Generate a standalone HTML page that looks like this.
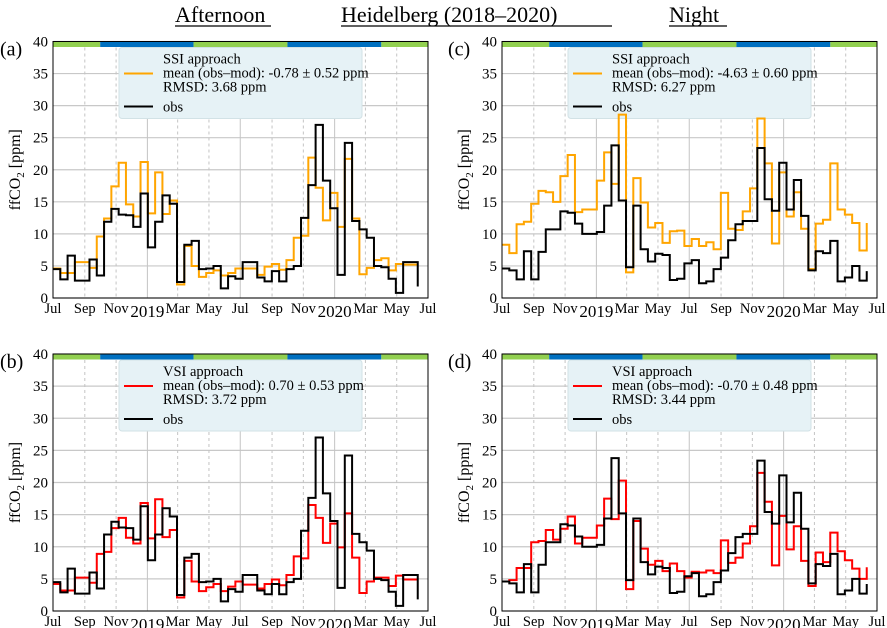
<!DOCTYPE html>
<html><head><meta charset="utf-8"><style>
body{margin:0;background:#fff;}
svg{display:block;}
svg text{font-family:"Liberation Serif",serif;}
</style></head><body>
<svg id="fig" width="887" height="628" viewBox="0 0 887 628" xmlns="http://www.w3.org/2000/svg" font-family="Liberation Serif, serif">
<g font-size="22">
<text x="175" y="22">Afternoon</text>
<line x1="175" y1="26" x2="271" y2="26" stroke="#000" stroke-width="1.2"/>
<text x="341" y="22">Heidelberg (2018–2020)</text>
<line x1="341" y1="26" x2="612" y2="26" stroke="#000" stroke-width="1.2"/>
<text x="669" y="22">Night</text>
<line x1="669" y1="26" x2="727" y2="26" stroke="#000" stroke-width="1.2"/>
</g>
</svg>
<script>
// ---- data (biweekly values, ppm) ----
const obsAfternoon=[4.5,2.9,6.6,2.7,2.7,6.0,3.5,11.9,13.9,13.0,12.9,11.1,16.3,7.9,11.9,16.0,14.7,2.5,8.3,8.9,4.5,4.6,5.0,1.5,3.4,3.0,5.6,5.6,3.2,2.6,4.2,2.6,4.5,5.0,12.5,17.6,27.0,18.3,14.0,3.6,24.2,12.0,10.7,9.4,5.0,4.8,3.0,0.8,5.6,5.6,1.8];
const ssiAfternoon=[4.6,3.9,3.9,5.6,5.6,4.7,9.6,12.4,17.4,21.1,14.6,12.7,21.2,13.2,19.6,13.1,15.2,2.1,8.1,5.0,3.3,3.9,4.3,3.5,3.9,4.6,4.6,4.6,3.6,4.9,5.3,4.4,5.9,9.4,9.7,21.9,17.2,12.1,16.4,11.1,21.7,12.4,3.7,4.7,5.9,6.2,4.3,5.3,5.2,5.2,5.2];
const vsiAfternoon=[4.2,3.2,3.2,5.2,5.2,4.4,8.9,9.2,12.9,14.5,11.4,10.5,16.8,11.3,17.4,11.5,12.6,2.1,7.8,4.6,3.1,3.7,4.2,3.1,3.8,4.6,4.1,4.1,3.5,4.2,4.9,4.0,5.6,8.5,8.2,16.5,14.5,10.6,13.6,9.9,15.2,8.3,2.8,4.6,5.2,5.2,3.9,5.5,4.9,4.9,4.9];
const obsNight=[4.6,4.3,2.9,7.3,2.9,7.2,10.7,10.7,13.5,13.3,11.6,10.0,10.0,10.3,14.4,23.8,15.2,4.8,14.4,7.6,5.7,6.9,6.7,2.8,3.0,5.4,5.9,2.3,2.6,4.5,6.3,9.0,11.5,12.0,12.0,23.4,15.4,13.6,21.1,13.8,18.4,12.8,4.3,7.3,7.0,8.9,2.6,3.2,5.0,2.7,4.2];
const ssiNight=[8.3,7.0,11.5,11.9,14.7,16.7,16.5,15.0,19.0,22.3,13.4,13.8,13.8,18.3,22.7,17.8,28.6,4.0,18.7,14.9,11.0,11.7,8.6,10.4,10.5,8.1,9.2,8.1,8.7,7.6,16.4,10.8,10.6,13.5,17.1,28.0,21.0,8.5,19.6,12.7,16.5,10.8,4.5,11.6,12.2,21.0,13.8,13.0,11.7,7.4,11.7];
const vsiNight=[4.6,4.8,6.7,6.7,10.7,10.9,12.6,11.1,12.8,14.7,10.5,11.4,11.4,13.3,17.5,14.3,20.3,3.4,14.0,9.7,7.2,7.8,6.2,7.4,6.2,5.2,6.1,6.0,6.3,5.9,11.0,7.5,8.3,10.5,13.2,21.5,17.0,7.1,14.8,9.6,13.2,7.8,3.9,9.1,7.6,12.2,9.3,7.9,6.6,5.0,6.8];
const yTicks=[0,5,10,15,20,25,30,35,40];
const xTickDays=[0,62,123,184,243,304,365,427,488,549,609,670,731];
const xTickLabels=["Jul","Sep","Nov","2019","Mar","May","Jul","Sep","Nov","2020","Mar","May","Jul"];
const seasonStarts=[0,92,274,457,640];
const seasonEnds=[92,274,457,640,731];
const seasonColors=["#92d050","#0070c0","#92d050","#0070c0","#92d050"];
const stepDays=14.22;
const totalDays=731;

const NS="http://www.w3.org/2000/svg";
const svg=document.getElementById('fig');
function mk(tag,attrs,parent){const e=document.createElementNS(NS,tag);for(const k in attrs)e.setAttribute(k,attrs[k]);if(tag==='text')e.setAttribute('font-family','Liberation Serif, serif');(parent||svg).appendChild(e);return e;}

const panels=[
 {id:'a',x0:53,x1:428,y0:41.5,y1:298,label:'(a)',lx:0,obs:obsAfternoon,mod:ssiAfternoon,col:'#ffa500',name:'SSI approach',mean:'mean (obs–mod): -0.78 ± 0.52 ppm',rmsd:'RMSD: 3.68 ppm'},
 {id:'c',x0:502,x1:877,y0:41.5,y1:298,label:'(c)',lx:448,obs:obsNight,mod:ssiNight,col:'#ffa500',name:'SSI approach',mean:'mean (obs–mod): -4.63 ± 0.60 ppm',rmsd:'RMSD: 6.27 ppm'},
 {id:'b',x0:53,x1:428,y0:354,y1:611,label:'(b)',lx:0,obs:obsAfternoon,mod:vsiAfternoon,col:'#ff0000',name:'VSI approach',mean:'mean (obs–mod): 0.70 ± 0.53 ppm',rmsd:'RMSD: 3.72 ppm'},
 {id:'d',x0:502,x1:877,y0:354,y1:611,label:'(d)',lx:448,obs:obsNight,mod:vsiNight,col:'#ff0000',name:'VSI approach',mean:'mean (obs–mod): -0.70 ± 0.48 ppm',rmsd:'RMSD: 3.44 ppm'}
];

function stepPath(vals,xs,ys){
  let d='';
  for(let i=0;i<vals.length;i++){
    const x=xs(i*stepDays),y=ys(vals[i]);
    if(i===0)d+='M'+x+' '+y;else d+=' L'+x+' '+y;
    if(i<vals.length-1)d+=' L'+xs((i+1)*stepDays)+' '+y;
  }
  return d;
}

panels.forEach(p=>{
  const g=mk('g',{});
  
  
  const xs=d=>p.x0+(p.x1-p.x0)*d/totalDays;
  const ys=v=>p.y1-(p.y1-p.y0)*v/40;
  yTicks.forEach(t=>{
    const l=mk('line',{x1:p.x0,x2:p.x1,y1:ys(t),y2:ys(t),stroke:'#c8c8c8','stroke-width':1.2},g);
    
    
    const tl=mk('text',{x:p.x0-5,y:ys(t)+5,'text-anchor':'end','font-size':15},g);
    tl.textContent=t;
    
    
  });
  xTickDays.forEach((d,i)=>{
    if(d>0&&d<totalDays){
      const major=(d===184||d===365||d===549);
      const l=mk('line',{x1:xs(d),x2:xs(d),y1:p.y0,y2:p.y1,stroke:'#c4c4c4','stroke-width':1,'stroke-dasharray':major?'':'3,3'},g);
      
      
    }
    const yr=xTickLabels[i].length===4;
    const t=mk('text',{x:xs(d),y:p.y1+(yr?19:15),'text-anchor':'middle','font-size':yr?17:14.5},g);
    t.textContent=xTickLabels[i];
    
    
  });
  seasonStarts.forEach((s,i)=>{
    const r=mk('rect',{x:xs(s),y:p.y0,width:xs(seasonEnds[i])-xs(s),height:5.5,fill:seasonColors[i]},g);
    
    
  });
  const lx=p.x0+66,ly=p.y0+6;
  const lb=mk('rect',{x:lx,y:ly,width:243,height:71,fill:'#e6f2f6',stroke:'#d2e2e6','stroke-width':1,rx:3},g);
  
  
  const l1=mk('line',{x1:lx+5,x2:lx+34,y1:ly+26,y2:ly+26,stroke:p.col,'stroke-width':2},g);
  
  
  const l2=mk('line',{x1:lx+5,x2:lx+34,y1:ly+59,y2:ly+59,stroke:'#000','stroke-width':2},g);
  
  
  [[p.name,16],[p.mean,30],[p.rmsd,44],['obs',64]].forEach(([s,dy])=>{
    const t=mk('text',{x:lx+44,y:ly+dy,'font-size':14.5},g);
    t.textContent=s;
    
    
  });
  const m=mk('path',{d:stepPath(p.mod,xs,ys),fill:'none',stroke:p.col,'stroke-width':2},g);
  
  
  const o=mk('path',{d:stepPath(p.obs,xs,ys),fill:'none',stroke:'#000','stroke-width':2},g);
  
  
  const fr=mk('rect',{x:p.x0,y:p.y0,width:p.x1-p.x0,height:p.y1-p.y0,fill:'none',stroke:'#000','stroke-width':1},g);
  
  
  const pl=mk('text',{x:p.lx,y:p.y0+14,'font-size':20},g);
  pl.textContent=p.label;
  
  
  const yl=mk('text',{transform:'translate('+(p.x0-33)+','+((p.y0+p.y1)/2)+') rotate(-90)','text-anchor':'middle','font-size':16},g);
  yl.innerHTML='ffCO<tspan font-size="11" dy="4">2</tspan><tspan dy="-4"> [ppm]</tspan>';
  
  
});
</script>
</body></html>
